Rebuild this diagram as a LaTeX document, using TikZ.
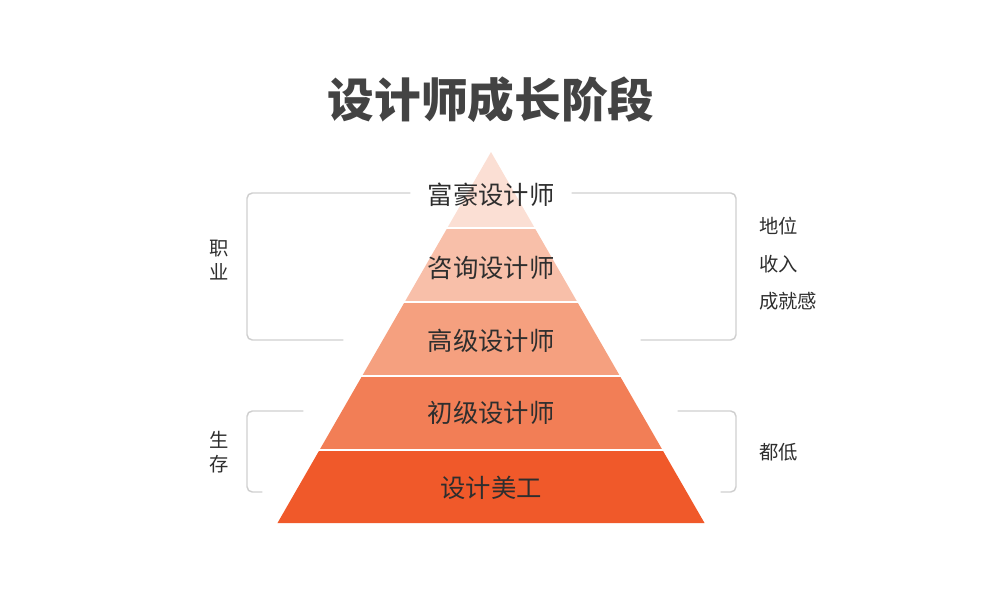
\documentclass[tikz,border=0pt]{standalone}
\usepackage{fontspec}
\newfontfamily\cjk{Noto Sans CJK SC}
\definecolor{textdark}{HTML}{2E2E2E}
\definecolor{bracketgray}{HTML}{CFCFCF}
\begin{document}
\begin{tikzpicture}[x=0.75pt,y=-0.75pt,line join=round,line cap=round]
	\tikzset{every node/.style={font=\cjk,text=textdark,inner sep=0pt},
		layertext/.style={font=\cjk\fontsize{19}{19}\selectfont},
		sidetext/.style={font=\cjk\fontsize{14.5}{17.5}\selectfont,align=center},
		bracket/.style={draw=bracketgray,line width=1.1pt,rounded corners=4pt}}
	\useasboundingbox (0,0) rectangle (984,597);
	% title
	\node[font=\cjk\bfseries\fontsize{35}{35}\selectfont,text=textdark!90] (title) at (491,100) {设计师成长阶段};
	% pyramid layers: top/bottom/colour/text y/label
	\foreach \t/\b/\c/\ty/\lab [count=\i] in {152/228/FBDFD4/195/富豪设计师, 228/302/F8BFA9/268/咨询设计师,
		302/376/F5A07F/341/高级设计师, 376/450/F27E56/413/初级设计师, 450/523/F0592A/488/设计美工}{
		\definecolor{layercol}{HTML}{\c}
		\fill[layercol] ({491-(\t-152)*0.5755},\t) -- ({491+(\t-152)*0.5755},\t)
			-- ({491+(\b-152)*0.5755},\b) -- ({491-(\b-152)*0.5755},\b) -- cycle;
	}
	\foreach \y in {228,302,376,450}
		\draw[white,line width=1.3pt,line cap=butt] ({491-(\y-152)*0.5755-2},\y) -- ({491+(\y-152)*0.5755+2},\y);
	\foreach \ty/\lab [count=\i] in {195/富豪设计师, 268/咨询设计师, 341/高级设计师, 413/初级设计师, 488/设计美工}
		\node[layertext] (layer\i) at (491,\ty) {\lab};
	% brackets
	\draw[bracket] (410,193) -- (247,193) -- (247,340) -- (343,340);
	\draw[bracket] (572,193) -- (736,193) -- (736,340) -- (641,340);
	\draw[bracket] (303,411) -- (247,411) -- (247,492) -- (262,492);
	\draw[bracket] (678,411) -- (736,411) -- (736,492) -- (721,492);
	% side labels
	\node[sidetext] (career) at (219,260) {职\\业};
	\node[sidetext] (survival) at (219,452) {生\\存};
	\node[sidetext,anchor=west] (status) at (759,226) {地位};
	\node[sidetext,anchor=west] (income) at (759,264) {收入};
	\node[sidetext,anchor=west] (achieve) at (759,301) {成就感};
	\node[sidetext,anchor=west] (low) at (759,452) {都低};
\end{tikzpicture}
\end{document}
